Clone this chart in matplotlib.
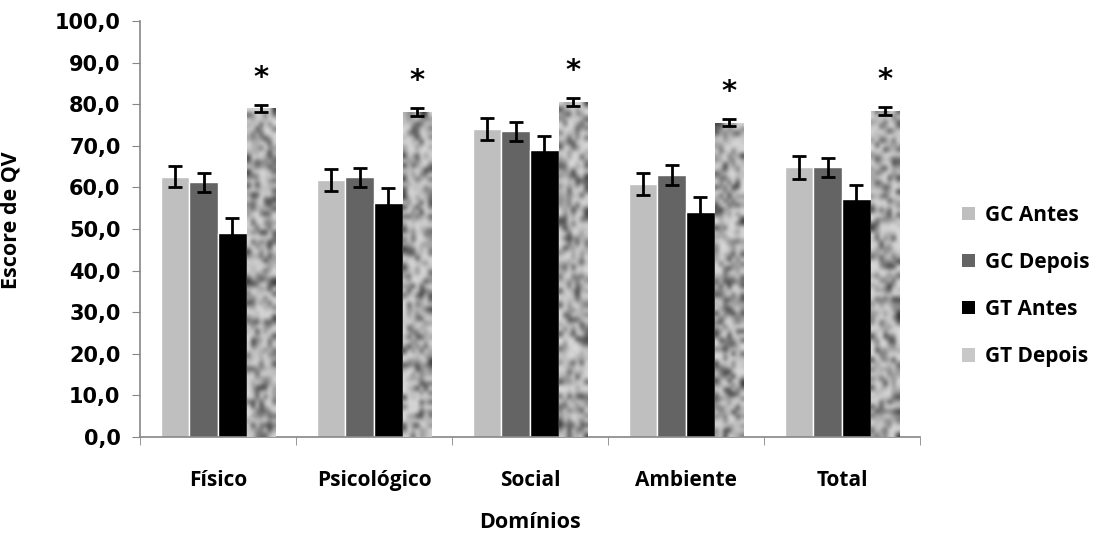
#!/usr/bin/env python3

import numpy as np
import matplotlib

matplotlib.use("Agg")
import matplotlib.pyplot as plt
from matplotlib.patches import Patch

# data
dominios = ["Físico", "Psicológico", "Social", "Ambiente", "Total"]
series = ["GC Antes", "GC Depois", "GT Antes", "GT Depois"]

gc_antes = [62.6, 61.8, 74.0, 60.8, 64.8]
gc_depois = [61.2, 62.4, 73.5, 63.0, 64.8]
gt_antes = [49.1, 56.2, 69.0, 54.0, 57.1]
gt_depois = [79.0, 78.1, 80.5, 75.6, 78.4]

gc_antes_err = [2.6, 2.6, 2.6, 2.7, 2.7]
gc_depois_err = [2.2, 2.3, 2.3, 2.4, 2.3]
gt_antes_err = [3.6, 3.6, 3.4, 3.6, 3.5]
gt_depois_err = [0.8, 0.9, 0.9, 0.8, 0.9]

y_ticks = [0, 10, 20, 30, 40, 50, 60, 70, 80, 90, 100]

colors = ["#bfbfbf", "#646464", "#000000", "#c8c8c8"]

FONT = "Open Sans"


def granite(rows: int, cols: int, seed: float) -> np.ndarray:
    # deterministic hash noise, used only as a fill texture
    i, j = np.mgrid[0:rows, 0:cols].astype(float)
    v = np.sin(i * 12.9898 + j * 78.233 + seed) * 43758.5453
    return (v - np.floor(v)) ** 2.2


def main() -> None:
    fig = plt.figure(figsize=(10.98, 5.41), dpi=100)
    ax = fig.add_axes([140 / 1098, 104 / 541, 780 / 1098, 416 / 541])

    values = [gc_antes, gc_depois, gt_antes, gt_depois]
    errors = [gc_antes_err, gc_depois_err, gt_antes_err, gt_depois_err]
    x = np.arange(len(dominios))
    width = 0.183
    offsets = [-1.5, -0.5, 0.5, 1.5]

    for k, (vals, errs) in enumerate(zip(values, errors)):
        pos = x + offsets[k] * width
        bars = ax.bar(
            pos, vals, width, color=colors[k],
            edgecolor="white" if k < 3 else "none", linewidth=1, zorder=2,
        )
        ax.errorbar(
            pos, vals, yerr=errs, fmt="none", ecolor="black",
            elinewidth=2, capsize=5, capthick=2, zorder=4,
        )
        if k == 3:
            for n, bar in enumerate(bars):
                tex = granite(70, 7, seed=n * 3.1)
                im = ax.imshow(
                    tex, cmap="gray_r", vmin=-0.22, vmax=1.3,
                    interpolation="bicubic", aspect="auto", zorder=3,
                    extent=(bar.get_x(), bar.get_x() + bar.get_width(),
                            0, bar.get_height()),
                )
                im.set_clip_path(bar)
                ax.annotate(
                    "*", (pos[n], vals[n] + errs[n]), xytext=(0, 14),
                    textcoords="offset points", ha="center", va="baseline",
                    fontsize=21, fontweight="bold", family="DejaVu Sans",
                )

    ax.set_xlim(-0.5, len(dominios) - 0.5)
    ax.set_ylim(0, 100)
    ax.set_yticks(y_ticks)
    ax.set_yticklabels([f"{v:.1f}".replace(".", ",") for v in y_ticks],
                       fontsize=15, fontweight="bold", family="DejaVu Sans")
    ax.set_xticks(x)
    ax.set_xticklabels(dominios, fontsize=15, fontweight="bold", family=FONT)
    ax.set_xticks(np.arange(len(dominios) + 1) - 0.5, minor=True)
    ax.tick_params(axis="x", which="major", length=0, pad=24)
    ax.tick_params(axis="x", which="minor", length=6, color="#868686",
                   direction="out")
    ax.tick_params(axis="y", length=6, color="#868686", direction="out", pad=8)

    for side in ("top", "right"):
        ax.spines[side].set_visible(False)
    for side in ("left", "bottom"):
        ax.spines[side].set_color("#868686")
        ax.spines[side].set_linewidth(1.2)

    ax.set_ylabel("Escore de QV", fontsize=15.5, fontweight="bold", family=FONT)
    ax.yaxis.set_label_coords(-0.152, 0.52)
    ax.set_xlabel("Domínios", fontsize=15.5, fontweight="bold", family=FONT)
    ax.xaxis.set_label_coords(0.5, -0.18)

    handles = [Patch(facecolor=c, edgecolor="none") for c in colors]
    fig.legend(
        handles, series, loc="center left", bbox_to_anchor=(962 / 1098, 0.471),
        frameon=False, handlelength=0.6, handleheight=0.6, handletextpad=0.5,
        labelspacing=1.25, borderpad=0, borderaxespad=0,
        prop={"family": FONT, "weight": "bold", "size": 15},
    )

    fig.savefig("out.png", dpi=100)
    plt.close(fig)


if __name__ == "__main__":
    main()
